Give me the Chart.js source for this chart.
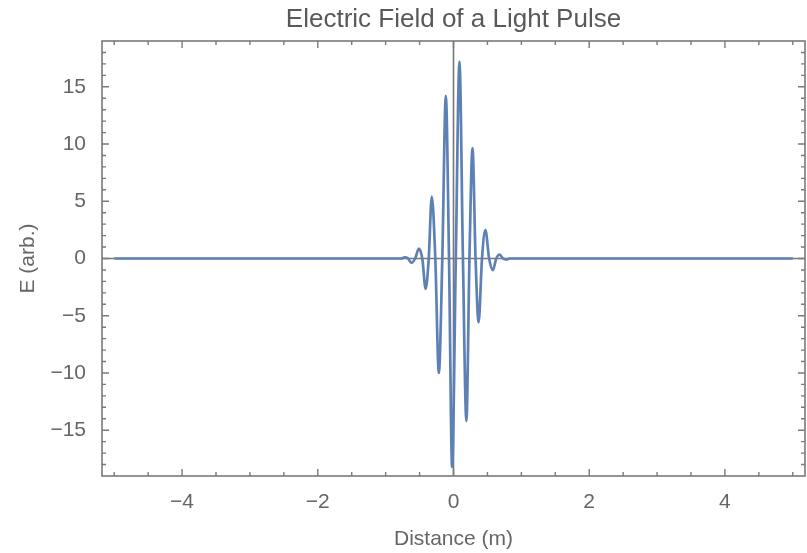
<!DOCTYPE html>
<html>
<head>
<meta charset="utf-8">
<script src="https://cdn.jsdelivr.net/npm/chart.js@4/dist/chart.umd.min.js"></script>
<style>
  html, body { margin: 0; padding: 0; background: #fff; }
  #wrap { width: 807px; height: 553px; }
</style>
</head>
<body>
<div id="wrap"><canvas id="c"></canvas></div>
<script>
// pulse: peaks, troughs and zero crossings
const pulseX = [-5, -0.77, -0.72, -0.67, -0.62, -0.565, -0.51, -0.46, -0.41, -0.365, -0.32, -0.268,
  -0.216, -0.165, -0.113, -0.066, -0.02, 0.034, 0.088, 0.139, 0.19, 0.235, 0.28, 0.325,
  0.37, 0.42, 0.47, 0.525, 0.58, 0.63, 0.68, 0.73, 0.78, 0.83, 5];
const pulseE = [0, 0, 0.1, 0, -0.38, 0, 0.87, 0, -2.65, 0, 5.4, 0,
  -10.0, 0, 14.2, 0, -18.2, 0, 17.2, 0, -14.2, 0, 9.65, 0,
  -5.57, 0, 2.48, 0, -1.02, 0, 0.35, 0, -0.08, 0, 0];

const xTicks = [-4, -2, 0, 2, 4];
const yTicks = [-15, -10, -5, 0, 5, 10, 15];

const font = '"Liberation Sans", Arial, sans-serif';
const lineGray = '#7a7a7a';

const fmt = v => (v < 0 ? '\u2212' + Math.abs(v) : '' + v);

const frameTicks = {
  id: 'frameTicks',
  beforeDatasetsDraw(chart) {
    const { ctx, chartArea: a, scales: { x, y } } = chart;
    const x0 = x.getPixelForValue(0);
    const y0 = y.getPixelForValue(0);
    ctx.save();
    ctx.strokeStyle = '#777';
    ctx.lineWidth = 1.6;
    ctx.beginPath();
    ctx.moveTo(x0, a.top); ctx.lineTo(x0, a.bottom);
    ctx.moveTo(a.left, y0); ctx.lineTo(a.right, y0);
    ctx.stroke();
    ctx.restore();
  },
  afterDatasetsDraw(chart) {
    const { ctx, chartArea: a, scales: { x, y } } = chart;
    ctx.save();
    ctx.strokeStyle = lineGray;
    ctx.lineWidth = 1.6;
    ctx.strokeRect(a.left, a.top, a.right - a.left, a.bottom - a.top);
    ctx.lineWidth = 1.4;
    ctx.beginPath();
    for (let i = -10; i <= 10; i++) {
      const v = i / 2;
      const px = x.getPixelForValue(v);
      const len = xTicks.includes(v) ? 7 : 4;
      ctx.moveTo(px, a.bottom); ctx.lineTo(px, a.bottom - len);
      ctx.moveTo(px, a.top); ctx.lineTo(px, a.top + len);
    }
    for (let v = -18; v <= 18; v++) {
      const py = y.getPixelForValue(v);
      const len = yTicks.includes(v) ? 7 : 4;
      ctx.moveTo(a.left, py); ctx.lineTo(a.left + len, py);
      ctx.moveTo(a.right, py); ctx.lineTo(a.right - len, py);
    }
    ctx.stroke();
    ctx.restore();
  }
};

new Chart(document.getElementById('c'), {
  type: 'line',
  data: {
    datasets: [{
      data: pulseX.map((v, i) => ({ x: v, y: pulseE[i] })),
      borderColor: '#5e81b5',
      borderWidth: 2.7,
      pointRadius: 0,
      cubicInterpolationMode: 'monotone',
      fill: false
    }]
  },
  options: {
    responsive: true,
    maintainAspectRatio: false,
    animation: false,
    layout: { padding: { left: 0, right: 2, top: 0, bottom: 0 } },
    plugins: {
      legend: { display: false },
      tooltip: { enabled: false },
      title: {
        display: true,
        text: 'Electric Field of a Light Pulse',
        fullSize: false,
        color: '#595959',
        font: { family: font, size: 26, weight: 'normal' },
        padding: { top: 4, bottom: 5.8 }
      }
    },
    scales: {
      x: {
        type: 'linear',
        min: -5.18,
        max: 5.18,
        grid: { display: false },
        border: { display: false },
        afterBuildTicks: s => { s.ticks = xTicks.map(v => ({ value: v })); },
        afterFit: s => { s.height = 77; },
        ticks: {
          color: '#666',
          padding: 6,
          maxRotation: 0,
          font: { family: font, size: 21 },
          callback: fmt
        },
        title: {
          display: true,
          text: 'Distance (m)',
          color: '#666',
          font: { family: font, size: 21 },
          padding: { top: 0, bottom: 1 }
        }
      },
      y: {
        min: -19,
        max: 19,
        grid: { display: false },
        border: { display: false },
        afterBuildTicks: s => { s.ticks = yTicks.map(v => ({ value: v })); },
        afterFit: s => { s.width = 102; },
        ticks: {
          color: '#666',
          padding: 8,
          font: { family: font, size: 21 },
          callback: fmt
        },
        title: {
          display: true,
          text: 'E (arb.)',
          color: '#666',
          font: { family: font, size: 21 },
          padding: { top: 16, bottom: 0 }
        }
      }
    }
  },
  plugins: [frameTicks]
});
</script>
</body>
</html>
